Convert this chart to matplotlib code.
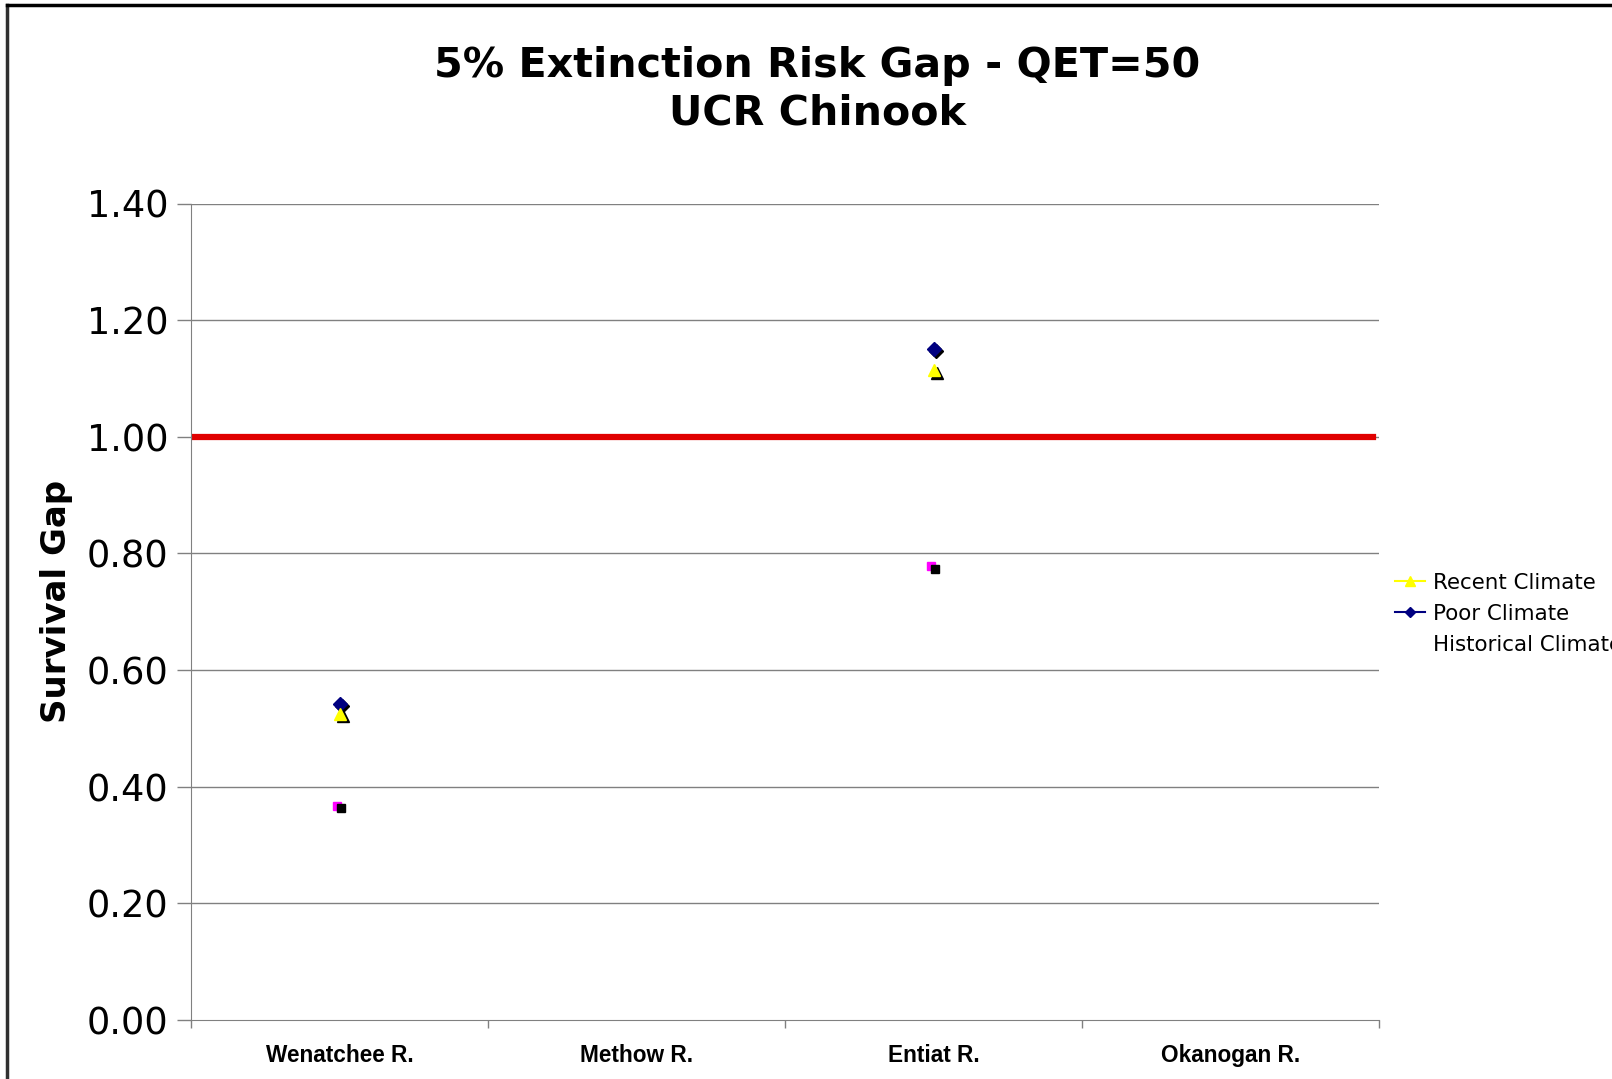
import matplotlib.pyplot as plt
from matplotlib.lines import Line2D

rivers = ['Wenatchee R.', 'Methow R.', 'Entiat R.', 'Okanogan R.']
# only Wenatchee (0) and Entiat (2) carry values
pos = [0, 2]
recent = [0.525, 1.114]
poor = [0.541, 1.150]
historical = [0.365, 0.776]
threshold = 1.0
yticks = [0.0, 0.2, 0.4, 0.6, 0.8, 1.0, 1.2, 1.4]

W, H = 1612, 1079
fig = plt.figure(figsize=(W / 100, H / 100), dpi=100)
ax = fig.add_axes([191 / W, 1 - 1020 / H, (1379 - 191) / W, (1020 - 203.5) / H])

ax.set_xlim(-0.5, 3.5)
ax.set_ylim(0, 1.4)

for y in yticks[1:]:
    ax.axhline(y, color='#808080', lw=1.0, zorder=1)

ax.axhline(threshold, xmax=0.995, color='#e00000', lw=4.5, zorder=2)

# small black shadows like excel markers
ax.plot([p + 0.01 for p in pos], [v - 0.003 for v in poor], 'D', color='black', ms=7.5, zorder=3)
ax.plot(pos, poor, 'D', color='#000080', ms=7.5, zorder=4)
ax.plot([p + 0.012 for p in pos], [v - 0.004 for v in recent], '^', color='black', ms=9, zorder=3)
ax.plot(pos, recent, '^', color='#ffff00', ms=9, zorder=4)
ax.plot([p - 0.008 for p in pos], [v + 0.002 for v in historical], 's', color='#ff00ff', ms=6, zorder=3)
ax.plot([p + 0.006 for p in pos], [v - 0.002 for v in historical], 's', color='black', ms=6, zorder=4)

for s in ['top', 'right']:
    ax.spines[s].set_visible(False)
ax.spines['left'].set_color('#808080')
ax.spines['bottom'].set_color('#808080')

ax.set_yticks(yticks)
ax.set_yticklabels(['%.2f' % v for v in yticks], fontsize=26.5, family='DejaVu Sans')
ax.tick_params(axis='y', length=10, width=1, color='#808080', pad=6)

ax.set_xticks([-0.5, 0.5, 1.5, 2.5, 3.5])
ax.set_xticklabels([])
ax.set_xticks(range(4), minor=True)
ax.set_xticklabels(rivers, minor=True, fontsize=16.3, fontweight='bold', family='Liberation Sans')
ax.tick_params(axis='x', which='major', length=6, width=1, color='#808080')
ax.tick_params(axis='x', which='minor', length=0, pad=17)

ax.set_ylabel('Survival Gap', fontsize=24.5, fontweight='bold', labelpad=10)
ax.yaxis.label.set_y(0.513)

fig.text(795 * 1.028 / W, 1 - 87 * 1.028 / H, '5% Extinction Risk Gap - QET=50\nUCR Chinook',
         ha='center', va='center', fontsize=29.7, fontweight='bold', linespacing=1.25)

handles = [
    Line2D([], [], color='#ffff00', marker='^', ms=7, lw=1.5),
    Line2D([], [], color='#000080', marker='D', ms=5, lw=1.5),
    Line2D([], [], color='none', marker='None'),
]
leg = fig.legend(handles, ['Recent Climate', 'Poor Climate', 'Historical Climate'],
                 loc='upper left', bbox_to_anchor=(1386 / W, 1 - 564 / H), frameon=False,
                 fontsize=15.4, handlelength=1.4, handletextpad=0.4, labelspacing=0.52,
                 borderaxespad=0)

# outer frame of the chart object (cut at right and bottom)
fig.add_artist(Line2D([7 / W, 7 / W], [0, 1 - 5 / H], color='#303030', lw=2.5, transform=fig.transFigure))
fig.add_artist(Line2D([7 / W, 1], [1 - 5 / H, 1 - 5 / H], color='black', lw=2.5, transform=fig.transFigure))

fig.savefig('out.png', dpi=100)
